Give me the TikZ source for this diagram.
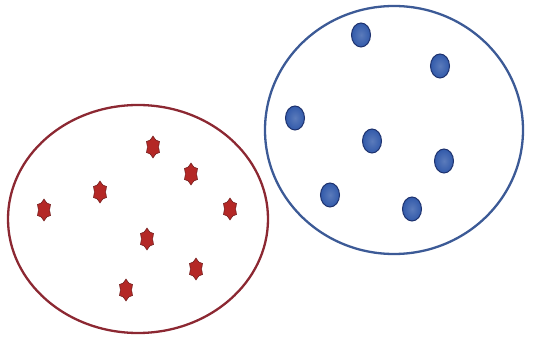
\documentclass[tikz,border=0pt]{standalone}
\usetikzlibrary{shapes.geometric}
\definecolor{redline}{RGB}{140,40,50}
\definecolor{blueline}{RGB}{60,90,150}
\definecolor{starfill}{RGB}{180,40,38}
\definecolor{stardraw}{RGB}{115,30,30}
\definecolor{dotfill}{RGB}{50,90,170}
\definecolor{dotdraw}{RGB}{30,50,110}
\tikzset{
  redring/.style={draw=redline, line width=2.3pt},
  bluering/.style={draw=blueline, line width=2.3pt},
  redstar/.style={star, star points=6, star point ratio=1.35, minimum size=15pt, inner sep=0pt,
    fill=starfill, draw=stardraw, line width=0.6pt, yscale=1.45, transform shape},
  bluedot/.style={ellipse, minimum width=19pt, minimum height=24pt, inner sep=0pt,
    inner color=dotfill!80!white, outer color=dotfill, draw=dotdraw, line width=1pt},
}
\begin{document}
\begin{tikzpicture}[x=1pt,y=-1pt]
\useasboundingbox (0,0) rectangle (533,339);
\draw[redring] (138,219) ellipse [x radius=130, y radius=114];
\draw[bluering] (394,130) ellipse [x radius=129, y radius=124];
\node[redstar] (r1) at (153,147) {};
\node[redstar] (r2) at (191,174) {};
\node[redstar] (r3) at (100,192) {};
\node[redstar] (r4) at (44,210) {};
\node[redstar] (r5) at (230,209) {};
\node[redstar] (r6) at (147,239) {};
\node[redstar] (r7) at (196,269) {};
\node[redstar] (r8) at (126,290) {};
\node[bluedot] (b1) at (361,35) {};
\node[bluedot] (b2) at (440,66) {};
\node[bluedot] (b3) at (295,118) {};
\node[bluedot] (b4) at (372,141) {};
\node[bluedot] (b5) at (444,161) {};
\node[bluedot] (b6) at (330,195) {};
\node[bluedot] (b7) at (412,209) {};
\end{tikzpicture}
\end{document}
